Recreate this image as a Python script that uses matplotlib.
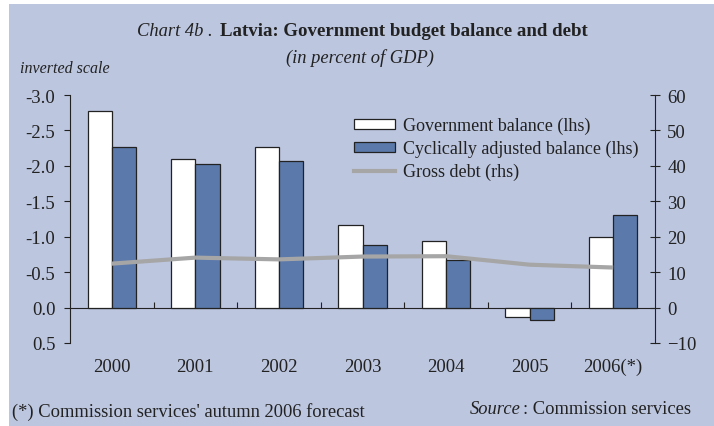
import matplotlib
matplotlib.use("Agg")
import matplotlib.pyplot as plt
from matplotlib.patches import Rectangle, Patch
from matplotlib.lines import Line2D
import numpy as np

# --- data ---
years = ["2000", "2001", "2002", "2003", "2004", "2005", "2006(*)"]
gov_balance = [-2.77, -2.09, -2.27, -1.17, -0.94, 0.14, -0.99]
cyc_balance = [-2.27, -2.03, -2.07, -0.88, -0.67, 0.18, -1.31]
gross_debt = [12.4, 14.1, 13.6, 14.4, 14.5, 12.1, 11.3]

left_ticks = [-3.0, -2.5, -2.0, -1.5, -1.0, -0.5, 0.0, 0.5]
right_ticks = [-10, 0, 10, 20, 30, 40, 50, 60]

BG = "#bcc6df"
BLUE = "#5b79ab"
GREY = "#a6a6a6"
EDGE = "#222222"
TXT = "#222222"
W, H = 714, 427
FS = 13.3

plt.rcParams["font.family"] = ["Liberation Serif", "DejaVu Serif"]
plt.rcParams["font.size"] = FS
plt.rcParams["text.color"] = TXT
plt.rcParams["xtick.color"] = TXT
plt.rcParams["ytick.color"] = TXT


def fx(px):
    return px / W


def fy(py):
    return 1 - py / H


fig = plt.figure(figsize=(W / 100, H / 100), dpi=100, facecolor="white")
fig.patches.append(Rectangle((fx(9), 0), 1 - fx(9), fy(5), transform=fig.transFigure,
                             facecolor=BG, edgecolor="none", zorder=-5))

ax = fig.add_axes([fx(70), fy(344), fx(655) - fx(70), fy(96) - fy(344)])
ax.set_facecolor("none")
x = np.arange(len(years))
bw = 0.29
ax.bar(x - bw / 2, gov_balance, bw, color="white", edgecolor=EDGE, linewidth=0.9, zorder=3)
ax.bar(x + bw / 2, cyc_balance, bw, color=BLUE, edgecolor=EDGE, linewidth=0.9, zorder=3)
ax.set_xlim(-0.5, len(years) - 0.5)
ax.set_ylim(0.5, -3.0)
ax.set_yticks(left_ticks)
ax.set_yticklabels([f"{v:.1f}" for v in left_ticks])
ax.tick_params(axis="y", direction="out", length=4, width=0.8, pad=6.5, labelsize=13.5)

# x axis on the zero line, ticks between categories
ax.spines["bottom"].set_position(("data", 0))
ax.spines["top"].set_visible(False)
ax.spines["right"].set_visible(False)
ax.set_xticks(x[:-1] + 0.5)
ax.set_xticklabels([])
ax.set_xticks(x, minor=True)
ax.set_xticklabels(years, minor=True)
ax.tick_params(axis="x", which="major", direction="in", length=4, width=0.8)
ax.tick_params(axis="x", which="minor", length=0, pad=36, labelsize=13.5)
for s in ["left", "bottom"]:
    ax.spines[s].set_linewidth(0.8)
    ax.spines[s].set_color(EDGE)

ax2 = ax.twinx()
ax2.plot(x, gross_debt, color=GREY, linewidth=3, solid_capstyle="butt", zorder=4)
ax2.set_ylim(-10, 60)
ax2.set_yticks(right_ticks)
ax2.tick_params(axis="y", direction="inout", length=7.5, width=0.8, pad=5, labelsize=13.5)
for s in ["top", "bottom", "left"]:
    ax2.spines[s].set_visible(False)
ax2.spines["right"].set_linewidth(0.8)
ax2.spines["right"].set_color(EDGE)

handles = [Patch(facecolor="white", edgecolor=EDGE, linewidth=0.9),
           Patch(facecolor=BLUE, edgecolor=EDGE, linewidth=0.9),
           Line2D([0], [0], color=GREY, linewidth=3)]
labels = ["Government balance (lhs)", "Cyclically adjusted balance (lhs)", "Gross debt (rhs)"]
fig.legend(handles, labels, loc="upper left", bbox_to_anchor=(fx(354), fy(118)),
           frameon=False, handlelength=2.25, handleheight=0.45, handletextpad=0.45,
           labelspacing=0.32, borderaxespad=0, borderpad=0, fontsize=13)

# titles and notes
fig.text(fx(217), fy(32), "Chart 4b . ", style="italic", fontsize=FS, ha="right", va="center")
fig.text(fx(220), fy(32), "Latvia: Government budget balance and debt", weight="bold",
         fontsize=13.6, ha="left", va="center")
fig.text(fx(360), fy(58), "(in percent of GDP)", style="italic", fontsize=FS, ha="center", va="center")
fig.text(fx(20), fy(69), "inverted scale", style="italic", fontsize=11.5, ha="left", va="center")
fig.text(fx(12), fy(412), "(*) Commission services' autumn 2006 forecast", fontsize=FS,
         ha="left", va="center")
fig.text(fx(521), fy(410), "Source", style="italic", fontsize=FS, ha="right", va="center")
fig.text(fx(523), fy(410), ": Commission services", fontsize=FS, ha="left", va="center")

fig.savefig("out.png", dpi=100, facecolor=fig.get_facecolor())
